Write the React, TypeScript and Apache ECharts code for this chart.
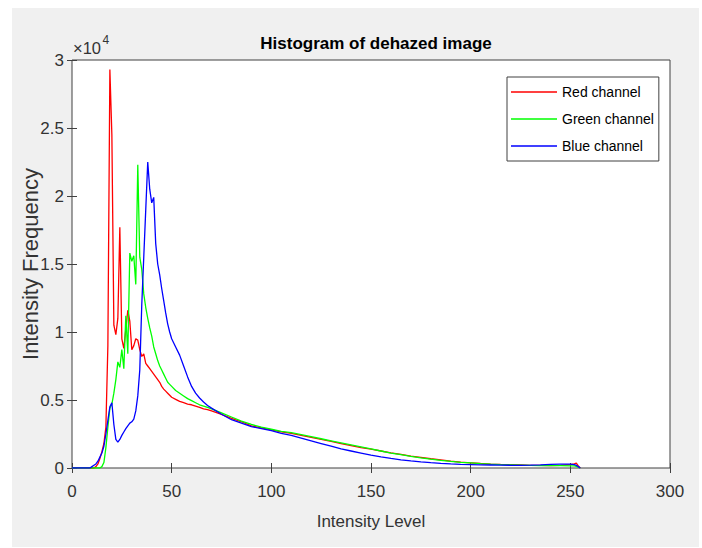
import { useEffect, useRef } from "react";
import * as echarts from "echarts";

const chartTitle = "Histogram of dehazed image";
const xAxisName = "Intensity Level";
const yAxisName = "Intensity Frequency";
const seriesNames = ["Red channel", "Green channel", "Blue channel"];
const seriesColors = ["#ff0000", "#00ff00", "#0000ff"];

const xMin = 0;
const xMax = 300;
const xStep = 50;
const yMin = 0;
const yMax = 30000;
const yStep = 5000;
const yScale = 10000;

const levels = [
  0, 5, 9, 10, 11, 12, 13, 14, 15, 16, 17, 18, 19, 20, 21, 22, 23, 24, 25, 26, 27, 28, 29, 30,
  31, 32, 33, 34, 35, 36, 37, 38, 39, 40, 41, 42, 43, 44, 45, 46, 47, 48, 49, 50,
  52, 54, 56, 58, 60, 62, 64, 66, 68, 70,
  75, 80, 85, 90, 95, 100, 105, 110, 115, 120, 125, 130, 135, 140, 145, 150, 155, 160, 165, 170,
  175, 180, 185, 190, 195, 200, 205, 210, 215, 220, 225, 230, 235, 240, 245, 250,
  252, 253, 254, 255,
];

const redCounts = [
  0, 0, 0, 0, 0, 100, 300, 700, 1200, 1800, 3000, 9000, 29300, 24500, 10500, 9800, 11000, 17700, 9500, 8800, 10200, 11600, 10800, 8700,
  9000, 9500, 9400, 8700, 8200, 8400, 7700, 7500, 7300, 7100, 6900, 6700, 6500, 6300, 6000, 5800, 5650, 5500, 5350, 5200,
  5050, 4900, 4800, 4700, 4650, 4550, 4450, 4350, 4300, 4200,
  3950, 3650, 3400, 3100, 2950, 2800, 2650, 2550, 2400, 2250, 2100, 1950, 1800, 1650, 1500, 1380, 1250, 1120, 1000, 880,
  780, 680, 590, 500, 430, 380, 330, 290, 260, 240, 220, 200, 190, 180, 200, 250,
  300, 350, 150, 0,
];

const greenCounts = [
  0, 0, 0, 0, 0, 0, 0, 0, 100, 400, 1500, 3000, 4400, 4700, 5500, 6500, 7800, 7400, 8700, 7300, 11200, 8400, 15800, 15200,
  15600, 13500, 22300, 15500, 14600, 12800, 11800, 11000, 10300, 9700, 8900, 8400, 7900, 7500, 7200, 6900, 6600, 6300, 6150, 6000,
  5700, 5500, 5300, 5100, 4950, 4800, 4650, 4550, 4450, 4350,
  4050, 3750, 3450, 3200, 3000, 2850, 2700, 2600, 2450, 2300, 2150, 2000, 1850, 1700, 1550, 1400, 1250, 1100, 980, 860,
  750, 650, 560, 480, 420, 370, 320, 280, 250, 230, 210, 190, 180, 170, 170, 160,
  150, 120, 60, 0,
];

const blueCounts = [
  0, 0, 0, 100, 200, 300, 500, 800, 1100, 1600, 2500, 3500, 4500, 4800, 3200, 2100, 1900, 2100, 2400, 2650, 2900, 3100, 3300, 3400,
  3600, 4200, 5300, 7200, 12000, 15500, 19000, 22500, 20500, 19500, 19900, 16500, 15000, 14200, 13200, 12300, 11400, 10600, 10000, 9500,
  8900, 8300, 7500, 6700, 6000, 5500, 5150, 4850, 4600, 4400,
  3950, 3550, 3300, 3050, 2900, 2750, 2550, 2400, 2200, 2000, 1800, 1600, 1400, 1250, 1100, 950, 820, 700, 600, 520,
  450, 390, 340, 300, 270, 250, 230, 220, 210, 200, 200, 210, 230, 260, 290, 280,
  250, 200, 100, 0,
];

const FONT = "'Liberation Sans', Arial, Helvetica, sans-serif";
const AXIS_COLOR = "#404040";
const TEXT_COLOR = "#333333";

export default function App() {
  const ref = useRef<HTMLDivElement>(null);

  useEffect(() => {
    document.body.style.margin = "0";
    if (!ref.current) return;
    const chart = echarts.init(ref.current, undefined, { renderer: "svg" });
    const allCounts = [redCounts, greenCounts, blueCounts];

    const tickStyle = { inside: true, length: 5, lineStyle: { color: AXIS_COLOR, width: 1 } };

    chart.setOption({
      animation: false,
      title: {
        text: chartTitle,
        left: 371,
        top: 30,
        textAlign: "center",
        textStyle: { fontFamily: FONT, fontSize: 17, fontWeight: "bold", color: "#000" },
      },
      grid: {
        left: 72,
        right: 32,
        top: 60,
        bottom: 80,
        show: true,
        backgroundColor: "#ffffff",
        borderColor: AXIS_COLOR,
        borderWidth: 1,
      },
      legend: {
        orient: "vertical",
        left: 507,
        top: 77,
        padding: [5, 5, 5, 4],
        itemGap: 7,
        itemWidth: 46,
        itemHeight: 1.5,
        icon: "rect",
        backgroundColor: "#ffffff",
        borderColor: AXIS_COLOR,
        borderWidth: 1,
        borderRadius: 0,
        textStyle: { fontFamily: FONT, fontSize: 14, lineHeight: 20, color: "#000" },
        data: seriesNames,
      },
      xAxis: [
        {
          type: "value",
          min: xMin,
          max: xMax,
          interval: xStep,
          name: xAxisName,
          nameLocation: "middle",
          nameGap: 45,
          nameTextStyle: { fontFamily: FONT, fontSize: 17, color: TEXT_COLOR },
          axisLine: { show: false },
          axisTick: tickStyle,
          splitLine: { show: false },
          axisLabel: { fontFamily: FONT, fontSize: 17, color: TEXT_COLOR, margin: 15 },
        },
        {
          type: "value",
          position: "top",
          min: xMin,
          max: xMax,
          interval: xStep,
          axisLine: { show: false },
          axisTick: tickStyle,
          splitLine: { show: false },
          axisLabel: { show: false },
        },
      ],
      yAxis: [
        {
          type: "value",
          min: yMin,
          max: yMax,
          interval: yStep,
          name: yAxisName,
          nameLocation: "middle",
          nameRotate: 90,
          nameGap: 31,
          nameMoveOverlap: false,
          nameTextStyle: { fontFamily: FONT, fontSize: 22, color: TEXT_COLOR },
          axisLine: { show: false },
          axisTick: tickStyle,
          splitLine: { show: false },
          axisLabel: {
            fontFamily: FONT,
            fontSize: 17,
            color: TEXT_COLOR,
            margin: 8,
            formatter: (v: number) => String(v / yScale),
          },
        },
        {
          type: "value",
          position: "right",
          min: yMin,
          max: yMax,
          interval: yStep,
          axisLine: { show: false },
          axisTick: tickStyle,
          splitLine: { show: false },
          axisLabel: { show: false },
        },
      ],
      graphic: [
        {
          type: "text",
          x: 73,
          y: 48,
          style: { text: "×10", fontFamily: FONT, fontSize: 16.5, fill: TEXT_COLOR, verticalAlign: "middle", align: "left" },
        },
        {
          type: "text",
          x: 102.5,
          y: 40,
          style: { text: "4", fontFamily: FONT, fontSize: 12, fill: TEXT_COLOR, verticalAlign: "middle", align: "left" },
        },
      ],
      series: seriesNames.map((name, i) => ({
        name,
        type: "line",
        xAxisIndex: 0,
        yAxisIndex: 0,
        showSymbol: false,
        symbol: "none",
        color: seriesColors[i],
        lineStyle: { color: seriesColors[i], width: 1.3 },
        data: levels.map((lv, j) => [lv, allCounts[i][j]]),
      })),
    });

    return () => chart.dispose();
  }, []);

  return (
    <div style={{ position: "fixed", left: 0, top: 0, width: 702, height: 548, background: "#ffffff" }}>
      <div style={{ position: "absolute", left: 12, top: 8, width: 687, height: 539, background: "#f0f0f0" }} />
      <div ref={ref} style={{ position: "absolute", left: 0, top: 0, width: 702, height: 548 }} />
    </div>
  );
}
